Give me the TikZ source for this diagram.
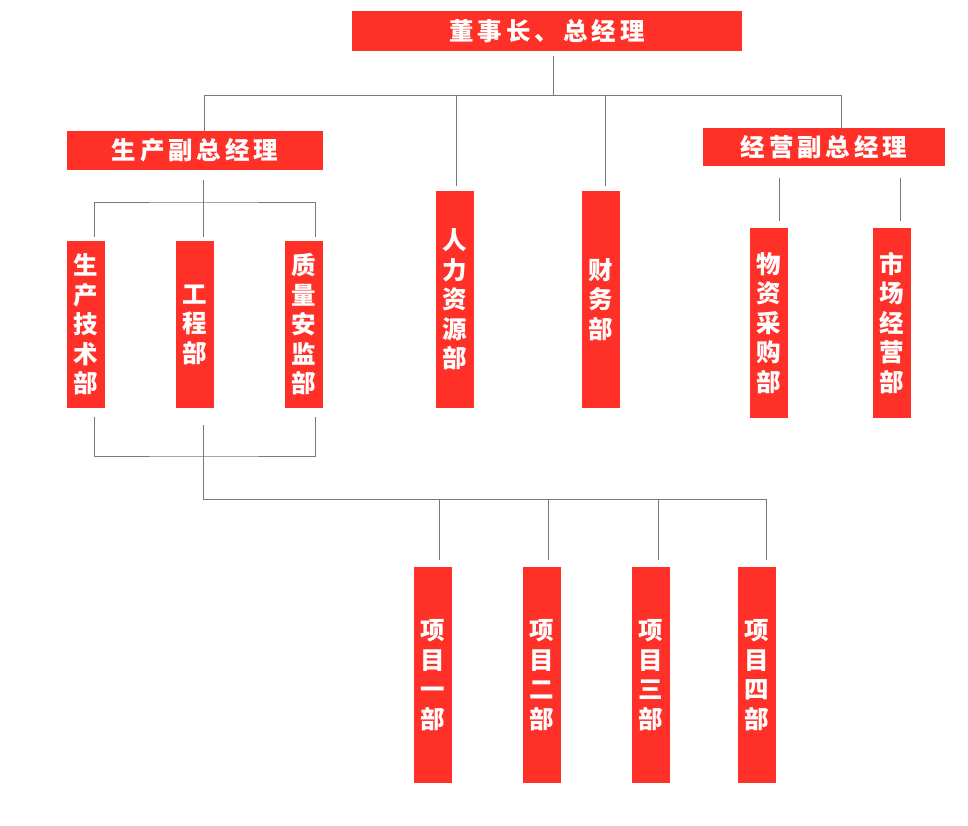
\documentclass[tikz,border=0pt]{standalone}
\usepackage{fontspec}
\newfontfamily\cjk{Noto Sans CJK SC}[LetterSpace=16]
\newfontfamily\cjkv{Noto Sans CJK SC}
\definecolor{boxred}{RGB}{255,48,40}
\definecolor{linegray}{RGB}{120,120,125}
\begin{document}
\begin{tikzpicture}[x=1pt,y=-1pt,
  hbox/.style={fill=boxred,draw=none,inner sep=0pt,text=white,
    font=\cjk\bfseries\fontsize{24.5}{28}\selectfont},
  vbox/.style={fill=boxred,draw=none,inner sep=0pt,text=white,align=center,
    minimum width=38pt,font=\cjkv\bfseries\fontsize{24.5}{29.5}\selectfont},
  conn/.style={draw=linegray,line width=0.9pt}]
\useasboundingbox (0,0) rectangle (968,825);
% top
\node[hbox,minimum width=390pt,minimum height=40pt] (ceo) at (547,31) {董事长、总经理};
\node[hbox,minimum width=256pt,minimum height=39pt] (prod) at (195,150.5) {生产副总经理};
\node[hbox,minimum width=242pt,minimum height=38pt] (biz) at (824,147) {经营副总经理};
% middle
\node[vbox,minimum height=217pt] (hr) at (455,299.5) {人\\力\\资\\源\\部};
\node[vbox,minimum height=217pt] (fin) at (601,299.5) {财\\务\\部};
\node[vbox,minimum height=167pt] (tech) at (86,324.5) {生\\产\\技\\术\\部};
\node[vbox,minimum height=167pt] (eng) at (195,324.5) {工\\程\\部};
\node[vbox,minimum height=167pt] (qa) at (304,324.5) {质\\量\\安\\监\\部};
\node[vbox,minimum height=190pt] (buy) at (769,323) {物\\资\\采\\购\\部};
\node[vbox,minimum height=190pt] (mkt) at (892,323) {市\\场\\经\\营\\部};
% bottom
\node[vbox,minimum height=216pt] (p1) at (432.5,675) {项\\目\\一\\部};
\node[vbox,minimum height=216pt] (p2) at (541.5,675) {项\\目\\二\\部};
\node[vbox,minimum height=216pt] (p3) at (650.5,675) {项\\目\\三\\部};
\node[vbox,minimum height=216pt] (p4) at (756.5,675) {项\\目\\四\\部};
% junction coordinates
\coordinate (busA) at (553,95);
\coordinate (busB) at (203,202);
\coordinate (busC) at (203,456);
\coordinate (busD) at (203,499);
% top bus
\draw[conn] ([xshift=6pt,yshift=-5pt]ceo.south) -- (busA);
\draw[conn] ([xshift=9pt]prod.north) |- ([xshift=17pt]biz.north |- busA) -- ([xshift=17pt]biz.north);
\draw[conn] ([xshift=1pt,yshift=5pt]hr.north) -- ([xshift=1pt]hr.north |- busA);
\draw[conn] ([xshift=4pt,yshift=5pt]fin.north) -- ([xshift=4pt]fin.north |- busA);
% production
\draw[conn] ([xshift=8pt,yshift=-10pt]prod.south) -- ([xshift=8pt,yshift=4pt]eng.north);
\draw[conn] ([xshift=8pt,yshift=4pt]tech.north) |- (busB) -| ([xshift=11pt,yshift=4pt]qa.north);
% business
\draw[conn] ([xshift=10pt,yshift=7pt]buy.north) -- ++(0,-43);
\draw[conn] ([xshift=8pt,yshift=7pt]mkt.north) -- ++(0,-43);
% bottom
\draw[conn] ([xshift=8pt,yshift=-9pt]tech.south) |- (busC) -| ([xshift=11pt,yshift=-9pt]qa.south);
\draw[conn] ([xshift=8pt,yshift=-17pt]eng.south) -- (busD);
\draw[conn] (busD) -| ([xshift=9.5pt,yshift=7pt]p4.north);
\draw[conn] ([xshift=6.5pt]p1.north |- busD) -- ([xshift=6.5pt,yshift=7pt]p1.north);
\draw[conn] ([xshift=6.5pt]p2.north |- busD) -- ([xshift=6.5pt,yshift=7pt]p2.north);
\draw[conn] ([xshift=7.5pt]p3.north |- busD) -- ([xshift=7.5pt,yshift=7pt]p3.north);
\end{tikzpicture}
\end{document}
